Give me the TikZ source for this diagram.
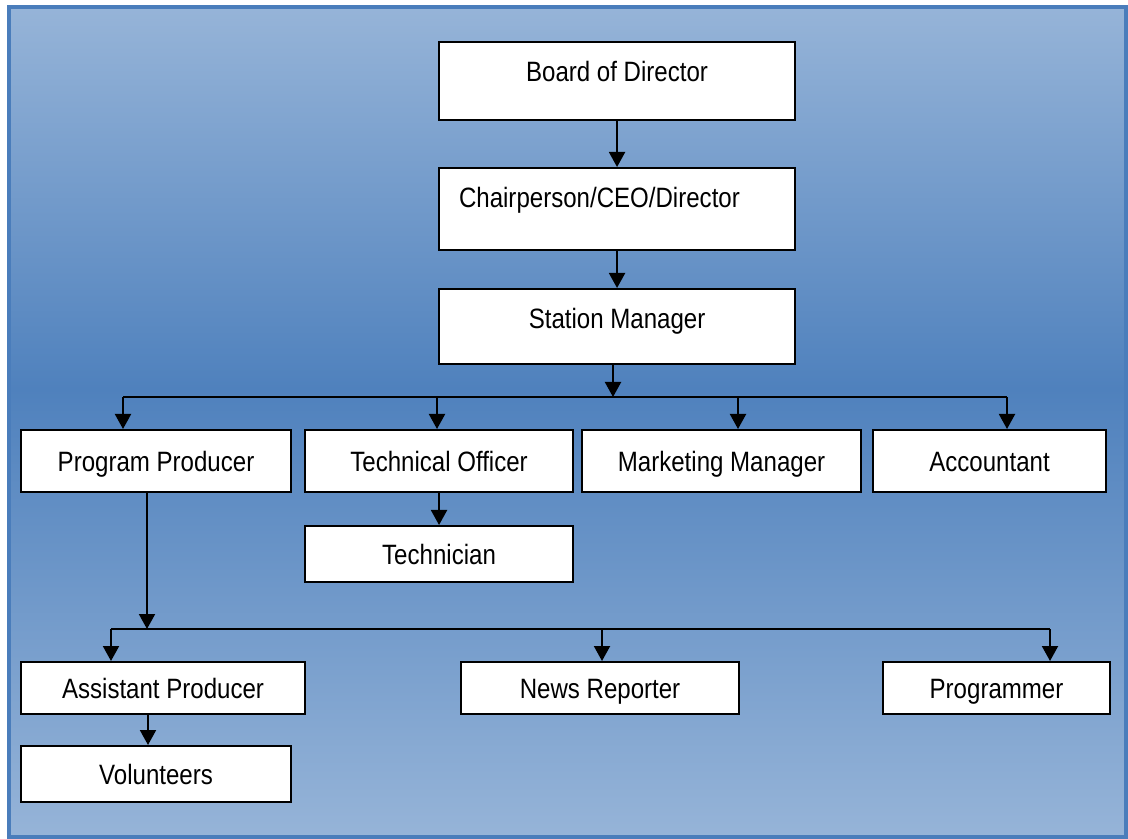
\documentclass[tikz,border=0pt]{standalone}
\usepackage{fontspec}
\setmainfont[FakeStretch=0.86]{Liberation Sans}
\usetikzlibrary{arrows.meta,positioning}

\definecolor{bglight}{RGB}{150,180,216}
\definecolor{bgdark}{RGB}{79,129,189}
\definecolor{framecol}{RGB}{74,125,187}

\pgfdeclareverticalshading{bgshade}{100bp}{color(0bp)=(bglight); color(25bp)=(bglight);
    color(52bp)=(bgdark); color(75bp)=(bglight); color(100bp)=(bglight)}

\tikzset{
    box/.style={draw=black, line width=0.05cm, fill=white, inner sep=0pt, anchor=north west,
        text height=0.5cm, text depth=0pt, font=\fontsize{19.9}{24}\selectfont},
    arr/.style={line width=0.05cm, -{Triangle[width=4mm,length=3.75mm]}},
    link/.style={line width=0.05cm},
}

\begin{document}
\begin{tikzpicture}[x=0.025cm, y=-0.025cm]

    \useasboundingbox (0,0) rectangle (1128,839);

    %background and frame
    \shade [shading=bgshade] (9,7) rectangle (1126,837);
    \draw [line width=0.1cm, framecol] (9,7) rectangle (1126,837);

    %nodes
    \node [box, minimum width=8.9cm, minimum height=1.95cm, text depth=0.5cm] (board) at (438,41) {Board of Director};
    \node [box, minimum width=8.9cm, minimum height=2.05cm, text depth=0.6cm, text width=7.9cm, align=left] (chair) at (438,167) {Chairperson/CEO/Director};
    \node [box, minimum width=8.9cm, minimum height=1.875cm, text depth=0.425cm] (station) at (438,288) {Station Manager};

    \node [box, minimum width=6.75cm, minimum height=1.55cm] (prog) at (20,429) {Program Producer};
    \node [box, minimum width=6.7cm, minimum height=1.55cm] (tech) at (304,429) {Technical Officer};
    \node [box, minimum width=6.975cm, minimum height=1.55cm] (mkt) at (581,429) {Marketing Manager};
    \node [box, minimum width=5.825cm, minimum height=1.55cm] (acct) at (872,429) {Accountant};
    \node [box, minimum width=6.7cm, minimum height=1.4cm] (techn) at (304,525) {Technician};

    \node [box, minimum width=7.1cm, minimum height=1.3cm] (asst) at (20,661) {Assistant Producer};
    \node [box, minimum width=6.95cm, minimum height=1.3cm] (news) at (460,661) {News Reporter};
    \node [box, minimum width=5.675cm, minimum height=1.3cm] (progr) at (882,661) {Programmer};
    \node [box, minimum width=6.75cm, minimum height=1.4cm] (vol) at (20,745) {Volunteers};

    %vertical arrows
    \draw [arr] (board) -- (chair);
    \draw [arr] (chair) -- (station);
    \draw [arr] (station.south -| 613,0) -- (613,397);
    \draw [arr] (tech) -- (techn);
    \draw [arr] (prog.south -| 147,0) -- (147,629);
    \draw [arr] (asst.south -| 148,0) -- (148,0 |- vol.north);

    %horizontal lines
    \draw [link] (123,397) -- (1007,397);
    \draw [link] (111,629) -- (1050,629);

    \foreach \x/\n in {123/prog, 437/tech, 738/mkt, 1007/acct}
        \draw [arr] (\x,397) -- (\x,0 |- \n.north);

    \foreach \x/\n in {111/asst, 602/news, 1050/progr}
        \draw [arr] (\x,629) -- (\x,0 |- \n.north);

\end{tikzpicture}
\end{document}
